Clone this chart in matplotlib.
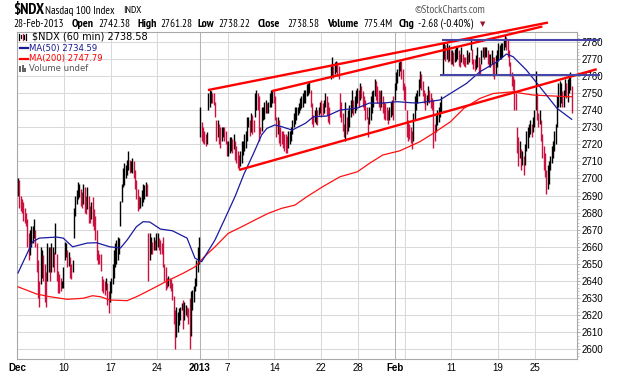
import matplotlib
matplotlib.use("Agg")
import matplotlib.pyplot as plt
from matplotlib import font_manager as fm
from matplotlib.lines import Line2D
from matplotlib.patches import Rectangle

# ---- hourly bars (low / high), one row per trading day ----
dec_lo = [
    2690, 2683, 2681, 2680, 2675, 2674, 2672,   # Dec 3
    2660, 2652, 2655, 2660, 2662, 2665, 2660,   # Dec 4
    2645, 2630, 2625, 2638, 2642, 2640, 2628,   # Dec 5
    2625, 2640, 2645, 2640, 2645, 2648, 2645,   # Dec 6
    2656, 2640, 2633, 2633, 2634, 2636, 2636,   # Dec 7
    2652, 2654, 2648, 2649, 2642, 2641, 2645,   # Dec 10
    2665, 2678, 2685, 2688, 2689, 2684, 2683,   # Dec 11
    2685, 2680, 2679, 2682, 2674, 2674, 2676,   # Dec 12
    2672, 2670, 2664, 2652, 2650, 2650, 2646,   # Dec 13
    2634, 2633, 2632, 2635, 2626, 2621, 2628,   # Dec 14
    2633, 2638, 2642, 2648, 2650, 2652, 2656,   # Dec 17
    2672, 2686, 2695, 2696, 2700, 2702, 2705,   # Dec 18
    2703, 2704, 2703, 2700, 2694, 2688, 2681,   # Dec 19
    2682, 2683, 2684, 2686, 2688, 2690, 2690,   # Dec 20
    2640, 2652, 2656, 2656, 2658, 2658, 2658,   # Dec 21
    2660, 2658, 2656, 2656,                     # Dec 24 (half day)
    2648, 2640, 2635, 2636, 2637, 2636, 2634,   # Dec 26
    2629, 2615, 2600, 2607, 2610, 2614, 2617,   # Dec 27
    2623, 2612, 2617, 2620, 2619, 2615, 2600,   # Dec 28
    2608, 2623, 2628, 2634, 2637, 2645, 2650,   # Dec 31
]
dec_hi = [
    2700, 2699, 2690, 2688, 2686, 2683, 2680,
    2676, 2668, 2670, 2672, 2672, 2676, 2670,
    2662, 2652, 2640, 2660, 2658, 2655, 2650,
    2645, 2662, 2660, 2660, 2662, 2660, 2657,
    2674, 2656, 2646, 2644, 2642, 2640, 2648,
    2663, 2662, 2658, 2657, 2654, 2650, 2652,
    2683, 2690, 2693, 2698, 2697, 2694, 2692,
    2697, 2695, 2690, 2695, 2690, 2684, 2686,
    2689, 2682, 2678, 2670, 2658, 2656, 2656,
    2643, 2641, 2640, 2642, 2639, 2634, 2640,
    2642, 2650, 2658, 2662, 2664, 2666, 2665,
    2687, 2697, 2706, 2709, 2708, 2711, 2716,
    2711, 2710, 2712, 2710, 2705, 2699, 2694,
    2690, 2689, 2693, 2697, 2696, 2698, 2697,
    2668, 2668, 2666, 2663, 2666, 2664, 2668,
    2668, 2665, 2664, 2662,
    2666, 2650, 2648, 2642, 2643, 2642, 2641,
    2639, 2631, 2623, 2625, 2622, 2624, 2625,
    2627, 2629, 2628, 2626, 2625, 2624, 2630,
    2634, 2635, 2637, 2642, 2652, 2660, 2666,
]
jan_lo = [
    2724, 2722, 2721, 2720, 2719, 2720, 2740,   # Jan 2
    2742, 2744, 2744, 2743, 2736, 2722, 2724,   # Jan 3
    2720, 2718, 2722, 2724, 2722, 2720, 2713,   # Jan 4
    2713, 2715, 2716, 2715, 2717, 2711, 2709,   # Jan 7
    2706, 2705, 2707, 2709, 2714, 2716, 2718,   # Jan 8
    2722, 2730, 2725, 2727, 2726, 2727, 2736,   # Jan 9
    2740, 2740, 2722, 2726, 2728, 2734, 2735,   # Jan 10
    2738, 2738, 2738, 2742, 2742, 2744, 2744,   # Jan 11
    2734, 2724, 2726, 2721, 2719, 2720, 2718,   # Jan 14
    2716, 2715, 2715, 2718, 2720, 2722, 2726,   # Jan 15
    2730, 2732, 2734, 2737, 2738, 2740, 2741,   # Jan 16
    2742, 2744, 2744, 2748, 2749, 2750, 2742,   # Jan 17
    2732, 2730, 2733, 2732, 2731, 2737, 2738,   # Jan 18
    2736, 2737, 2738, 2742, 2737, 2733, 2732,   # Jan 22
    2758, 2760, 2759, 2761, 2762, 2760, 2758,   # Jan 23
    2736, 2733, 2728, 2724, 2722, 2726, 2728,   # Jan 24
    2730, 2736, 2738, 2737, 2738, 2740, 2744,   # Jan 25
    2742, 2746, 2747, 2742, 2740, 2734, 2735,   # Jan 28
    2724, 2732, 2734, 2738, 2742, 2748, 2746,   # Jan 29
    2744, 2742, 2740, 2742, 2738, 2735, 2734,   # Jan 30
    2734, 2732, 2734, 2736, 2737, 2734, 2746,   # Jan 31
]
jan_hi = [
    2742, 2733, 2730, 2728, 2726, 2727, 2750,
    2752, 2751, 2750, 2750, 2745, 2734, 2734,
    2732, 2730, 2730, 2730, 2730, 2728, 2722,
    2722, 2724, 2724, 2723, 2726, 2722, 2719,
    2716, 2714, 2716, 2722, 2722, 2726, 2728,
    2736, 2736, 2734, 2738, 2737, 2734, 2750,
    2752, 2750, 2748, 2730, 2742, 2742, 2745,
    2746, 2744, 2745, 2750, 2752, 2752, 2751,
    2748, 2736, 2736, 2734, 2730, 2728, 2728,
    2726, 2726, 2725, 2728, 2728, 2730, 2734,
    2738, 2742, 2742, 2742, 2744, 2747, 2748,
    2750, 2752, 2752, 2755, 2756, 2757, 2752,
    2744, 2737, 2740, 2742, 2740, 2742, 2745,
    2746, 2744, 2746, 2750, 2748, 2745, 2742,
    2766, 2771, 2766, 2768, 2769, 2768, 2766,
    2750, 2745, 2738, 2732, 2745, 2736, 2740,
    2743, 2746, 2752, 2746, 2748, 2752, 2753,
    2752, 2756, 2754, 2751, 2748, 2746, 2742,
    2736, 2742, 2748, 2751, 2752, 2758, 2757,
    2754, 2752, 2751, 2752, 2748, 2745, 2744,
    2742, 2740, 2742, 2745, 2746, 2748, 2756,
]
feb_lo = [
    2752, 2756, 2760, 2763, 2758, 2752, 2746,   # Feb 1
    2740, 2724, 2722, 2723, 2721, 2717, 2722,   # Feb 4
    2734, 2740, 2744, 2748, 2753, 2752, 2748,   # Feb 5
    2744, 2740, 2743, 2745, 2744, 2741, 2740,   # Feb 6
    2718, 2722, 2727, 2731, 2733, 2736, 2738,   # Feb 7
    2761, 2770, 2769, 2770, 2768, 2769, 2767,   # Feb 8
    2767, 2766, 2768, 2769, 2770, 2766, 2765,   # Feb 11
    2768, 2767, 2766, 2765, 2767, 2767, 2768,   # Feb 12
    2775, 2767, 2764, 2763, 2764, 2765, 2761,   # Feb 13
    2761, 2767, 2771, 2770, 2771, 2771, 2767,   # Feb 14
    2765, 2765, 2767, 2760, 2758, 2761, 2765,   # Feb 15
    2769, 2770, 2770, 2771, 2775, 2777, 2775,   # Feb 19
    2771, 2766, 2760, 2754, 2752, 2740, 2740,   # Feb 20
    2715, 2707, 2712, 2705, 2708, 2702, 2708,   # Feb 21
    2716, 2718, 2724, 2726, 2724, 2727, 2730,   # Feb 22
    2740, 2734, 2730, 2732, 2722, 2712, 2705,   # Feb 25
    2701, 2691, 2694, 2697, 2705, 2709, 2712,   # Feb 26
    2716, 2720, 2730, 2742, 2742, 2744, 2742,   # Feb 27
    2742, 2748, 2747, 2745, 2750, 2752, 2738,   # Feb 28
]
feb_hi = [
    2762, 2764, 2768, 2769, 2769, 2764, 2756,
    2754, 2740, 2734, 2732, 2730, 2728, 2738,
    2748, 2750, 2752, 2758, 2763, 2761, 2757,
    2752, 2750, 2749, 2754, 2752, 2750, 2747,
    2746, 2732, 2737, 2740, 2742, 2745, 2748,
    2779, 2779, 2778, 2779, 2777, 2778, 2775,
    2775, 2774, 2776, 2777, 2777, 2775, 2773,
    2777, 2773, 2771, 2771, 2775, 2773, 2774,
    2783, 2776, 2770, 2770, 2772, 2777, 2771,
    2767, 2775, 2777, 2777, 2777, 2777, 2775,
    2773, 2773, 2775, 2771, 2771, 2772, 2775,
    2779, 2778, 2779, 2779, 2781, 2784, 2783,
    2781, 2775, 2768, 2762, 2760, 2758, 2750,
    2730, 2724, 2722, 2717, 2716, 2713, 2720,
    2728, 2730, 2732, 2734, 2732, 2736, 2740,
    2763, 2750, 2738, 2740, 2734, 2726, 2719,
    2715, 2705, 2708, 2710, 2713, 2719, 2722,
    2728, 2732, 2748, 2756, 2757, 2756, 2751,
    2752, 2758, 2756, 2758, 2761, 2762, 2754,
]

# ---- moving averages: (bar index, value) ----
ma50_bar = [0, 11, 16, 29, 34, 41, 52, 59, 69, 77, 82, 89, 94, 99, 107, 116, 127,
            133, 138, 148, 155, 163, 170, 177, 183, 187, 193, 198, 206, 211, 216,
            222, 232, 242, 255, 264, 274, 285, 295, 300, 317, 337, 347, 360, 367,
            372, 382, 392, 405, 416]
ma50_val = [2644.7, 2663.0, 2665.1, 2665.7, 2665.1, 2660.0, 2662.2, 2662.4, 2660.0,
            2659.3, 2664.0, 2671.8, 2674.7, 2674.5, 2670.4, 2669.4, 2665.1, 2653.3,
            2651.3, 2664.0, 2675.7, 2689.3, 2703.0, 2714.7, 2725.4, 2729.3, 2731.3,
            2730.3, 2728.3, 2730.3, 2732.3, 2736.1, 2736.5, 2740.0, 2741.2, 2744.1,
            2744.1, 2744.9, 2744.3, 2744.1, 2745.9, 2755.6, 2762.4, 2768.3, 2772.8,
            2771.2, 2763.4, 2753.7, 2741.0, 2734.6]
ma200_bar = [0, 14, 24, 37, 49, 56, 62, 69, 82, 89, 99, 112, 124, 133, 140, 148, 158,
             168, 178, 188, 198, 208, 217, 229, 242, 255, 264, 274, 287, 302, 312,
             325, 335, 347, 357, 372, 377, 387, 397, 416]
ma200_val = [2636.6, 2632.4, 2630.8, 2629.3, 2629.9, 2631.4, 2630.8, 2628.9, 2628.5,
             2630.8, 2634.7, 2640.0, 2644.5, 2648.3, 2654.2, 2660.0, 2667.9, 2671.7,
             2675.7, 2679.6, 2682.5, 2684.4, 2689.3, 2695.2, 2701.0, 2703.9, 2708.8,
             2713.7, 2716.2, 2721.5, 2726.4, 2733.2, 2741.0, 2746.8, 2749.7, 2750.7,
             2750.0, 2748.8, 2748.4, 2747.8]

# ---- annotations drawn on the chart: (bar index, value) ----
channel_top1 = [(142.7, 2751.7), (398.2, 2791.2)]
channel_top2 = [(190.8, 2751.1), (394.0, 2788.9)]
channel_low = [(166.3, 2705.0), (434.8, 2763.9)]
range_high = [(318.3, 2780.8), (437.3, 2780.8)]
range_low = [(317.0, 2760.7), (437.3, 2760.7)]

# ---- x axis: first bar of each labelled period ----
tick_bars = [0, 35, 70, 105, 137, 158, 193, 228, 256, 284, 291, 326, 361, 389]
tick_labels = ['Dec', '10', '17', '24', '2013', '7', '14', '22', '28', 'Feb', '', '11', '19', '25']
month_ticks = ['Dec', '2013', 'Feb']
y_ticks = list(range(2600, 2790, 10))

W, H = 620, 376
BAR_UP = '#000000'
BAR_DN = '#cc1040'


def pick_font(cands, default):
    for c in cands:
        try:
            fm.findfont(c, fallback_to_default=False)
            return c
        except ValueError:
            pass
    return default


NARROW = pick_font(['Liberation Sans Narrow', 'Arial Narrow', 'PT Sans Narrow',
                    'Archivo Narrow'], 'Liberation Sans')
WIDE = pick_font(['Verdana', 'DejaVu Sans'], 'DejaVu Sans')


def fx(px):
    return px / W


def fy(py):
    return 1 - py / H


fig = plt.figure(figsize=(W / 100, H / 100), dpi=100)
fig.patch.set_facecolor('white')
ax = fig.add_axes([fx(16.7), fy(359.3), (577 - 16.7) / W, (359.3 - 32.3) / H])

lo = dec_lo + jan_lo + feb_lo
hi = dec_hi + jan_hi + feb_hi
xs = list(range(len(lo)))
mid = [(a + b) / 2 for a, b in zip(lo, hi)]
cols = [BAR_UP if i == 0 or mid[i] >= mid[i - 1] else BAR_DN for i in xs]

# grid
for v in y_ticks:
    ax.axhline(v, color='#d9d9d9', lw=0.75, zorder=0)
for b, lab in zip(tick_bars, tick_labels):
    c = '#b4b4b4' if lab in ('2013', 'Feb') else '#d9d9d9'
    ax.axvline(b - 0.5, color=c, lw=0.75, zorder=0)

# price bars
ax.vlines(xs, lo, hi, colors=cols, linewidth=1.0, zorder=3)

# moving averages
ax.plot(ma200_bar, ma200_val, color='#ff1010', lw=0.9, zorder=4)
ax.plot(ma50_bar, ma50_val, color='#1a1aa0', lw=0.9, zorder=4)

# trendlines and range lines (they spill over the frame in the original)
for seg in (channel_top1, channel_top2, channel_low):
    ax.plot([p[0] for p in seg], [p[1] for p in seg], color='#ff0000', lw=1.7,
            zorder=5, clip_on=False, solid_capstyle='butt')
for seg in (range_high, range_low):
    ax.plot([p[0] for p in seg], [p[1] for p in seg], color='#4646a8', lw=1.5,
            zorder=5, clip_on=False, solid_capstyle='butt')

ax.set_xlim(-0.98, 420.0)
ax.set_ylim(2594.2, 2785.5)

for s in ax.spines.values():
    s.set_color('#a8a8a8')
    s.set_linewidth(0.8)

ax.yaxis.tick_right()
ax.set_yticks(y_ticks)
ax.set_yticklabels([str(v) for v in y_ticks], fontsize=7, family='Liberation Sans')
ax.set_yticks(list(range(2596, 2786, 2)), minor=True)
ax.tick_params(axis='y', which='major', length=2, width=0.6, color='#999999', pad=1.5)
ax.tick_params(axis='y', which='minor', length=1.2, width=0.5, color='#b0b0b0')

ax.set_xticks([b - 0.5 for b in tick_bars])
ax.set_xticklabels(tick_labels, fontsize=7, family='Liberation Sans')
for t in ax.get_xticklabels():
    if t.get_text() in month_ticks:
        t.set_fontweight('bold')
ax.tick_params(axis='x', length=0, pad=2.5)

# header
fig.text(fx(13), fy(10), '$NDX', fontsize=11, fontweight='bold', family=NARROW,
         ha='left', va='center')
fig.text(fx(45), fy(10.5), 'Nasdaq 100 Index', fontsize=8, family=NARROW,
         ha='left', va='center')
fig.text(fx(123), fy(10.5), 'INDX', fontsize=7.5, family=NARROW, ha='left', va='center')
fig.text(fx(485), fy(10), '\u00a9StockCharts.com', fontsize=8, family=NARROW,
         color='#555555', ha='right', va='center')

header2 = [('28-Feb-2013', 13, 'normal'), ('Open', 71.7, 'bold'), ('2742.38', 98, 'normal'),
           ('High', 137, 'bold'), ('2761.28', 160, 'normal'), ('Low', 198, 'bold'),
           ('2738.22', 218, 'normal'), ('Close', 258, 'bold'), ('2738.58', 287, 'normal'),
           ('Volume', 327, 'bold'), ('775.4M', 363, 'normal'), ('Chg', 399, 'bold'),
           ('-2.68 (-0.40%)', 418, 'normal')]
for txt, px, wt in header2:
    fig.text(fx(px), fy(24), txt, fontsize=8.5 if wt == 'bold' else 8, fontweight=wt,
             family=NARROW, ha='left', va='center')
fig.text(fx(479.5), fy(24.5), '\u25bc', fontsize=5, color='#a01030', ha='left', va='center',
         family='DejaVu Sans')

# legend block (top-left inside plot)
fig.text(fx(32), fy(36.3), '$NDX (60 min) 2738.58', fontsize=7, family=WIDE,
         ha='left', va='center', zorder=6)
for x0, y0, y1, c in [(19, 34, 40, BAR_UP), (20.5, 35, 38, BAR_UP), (22.5, 34, 40, BAR_DN),
                      (24.5, 35, 39, BAR_UP), (26, 33.5, 40, BAR_UP)]:
    fig.add_artist(Line2D([fx(x0), fx(x0)], [fy(y0), fy(y1)], color=c, lw=0.9))
fig.add_artist(Line2D([fx(20), fx(28)], [fy(48.3), fy(48.3)], color='#1a1a90', lw=1.6))
fig.text(fx(29), fy(48.3), 'MA(50) 2734.59', fontsize=6.1, family=WIDE,
         color='#1a1a90', ha='left', va='center')
fig.add_artist(Line2D([fx(20), fx(28)], [fy(58.5), fy(58.5)], color='#ff0000', lw=1.6))
fig.text(fx(29), fy(58.5), 'MA(200) 2747.79', fontsize=6.1, family=WIDE,
         color='#ff0000', ha='left', va='center')
for x0, h in [(19.5, 5), (22, 7), (24.5, 4)]:
    fig.add_artist(Rectangle((fx(x0), fy(71.5)), 2 / W, h / H, color='#666666', lw=0))
fig.text(fx(29), fy(68.5), 'Volume undef', fontsize=6.1, family=WIDE,
         color='#555555', ha='left', va='center')

fig.savefig('out.png', dpi=100, facecolor='white')
